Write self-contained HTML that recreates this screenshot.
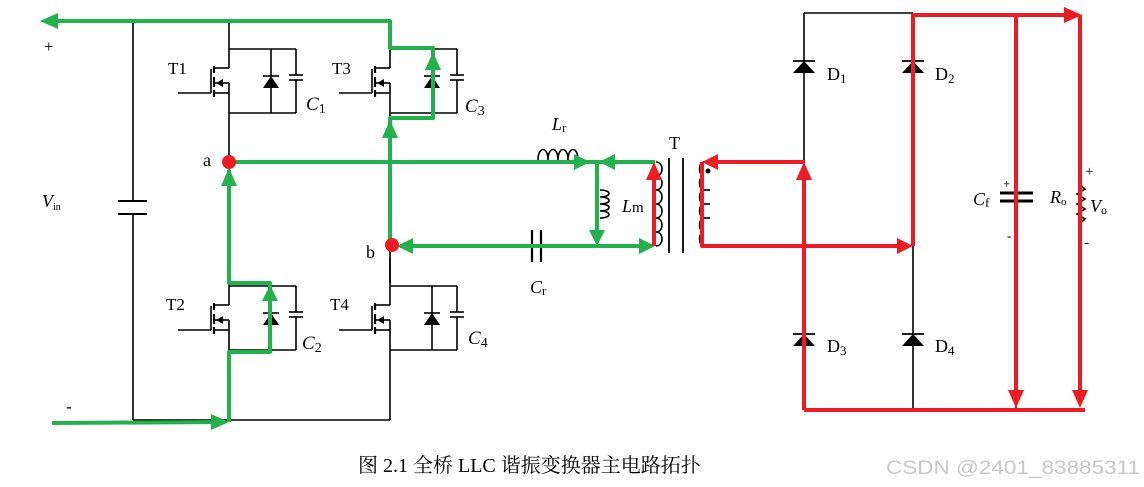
<!DOCTYPE html>
<html><head><meta charset="utf-8"><style>
html,body{margin:0;padding:0;background:#fff;}
svg{display:block;}
</style></head><body>
<svg width="1144" height="487" viewBox="0 0 1144 487" xmlns="http://www.w3.org/2000/svg">
<defs>
<g id="sw" stroke="#000" stroke-width="1.6" fill="none">
  <line x1="0" y1="-28" x2="0" y2="19"/>
  <line x1="0" y1="19" x2="-15" y2="19"/>
  <line x1="-15" y1="34" x2="0" y2="34"/>
  <line x1="-15" y1="44" x2="0" y2="44"/>
  <line x1="0" y1="34" x2="0" y2="64"/>
  <line x1="-15" y1="17" x2="-15" y2="24" stroke-width="2.2"/>
  <line x1="-15" y1="28" x2="-15" y2="38" stroke-width="2.2"/>
  <line x1="-15" y1="41" x2="-15" y2="48" stroke-width="2.2"/>
  <line x1="-18" y1="20" x2="-18" y2="44"/>
  <line x1="-51" y1="44" x2="-18" y2="44"/>
  <polygon points="-13,34 -6,30 -6,38" fill="#000" stroke="none"/>
  <line x1="0" y1="0" x2="67" y2="0"/>
  <line x1="67" y1="0" x2="67" y2="26"/>
  <line x1="60" y1="26" x2="74" y2="26"/>
  <line x1="60" y1="31" x2="74" y2="31"/>
  <line x1="67" y1="31" x2="67" y2="64"/>
  <line x1="0" y1="64" x2="67" y2="64"/>
  <line x1="42" y1="0" x2="42" y2="64"/>
  <polygon points="34,39 50,39 42,27" fill="#000" stroke="none"/>
  <line x1="34" y1="27" x2="50" y2="27"/>
</g>
<g id="dio"><polygon points="-11,6 11,6 0,-6" fill="#000"/><line x1="-11" y1="-6" x2="11" y2="-6" stroke="#000" stroke-width="1.8"/></g>
</defs>

<g stroke="#000" stroke-width="1.6" fill="none">
  <line x1="133" y1="21" x2="390" y2="21"/>
  <line x1="133" y1="21" x2="133" y2="201"/>
  <line x1="133" y1="214" x2="133" y2="420"/>
  <line x1="118" y1="201" x2="147" y2="201" stroke-width="2"/>
  <line x1="118" y1="214" x2="147" y2="214" stroke-width="2"/>
  <line x1="133" y1="420" x2="390" y2="420"/>
  <line x1="229" y1="113" x2="229" y2="283"/>
  <line x1="390" y1="113" x2="390" y2="283"/>
  <line x1="229" y1="350" x2="229" y2="420"/>
  <line x1="390" y1="350" x2="390" y2="420"/>
  <path d="M538,160 c0,-14 10,-14 10,0 c0,-14 10,-14 10,0 c0,-14 10,-14 10,0 c0,-14 10,-14 10,0"/>
  <path d="M600,190 c12,0 12,7 0,7 c12,0 12,7 0,7 c12,0 12,7 0,7 c12,0 12,7 0,7"/>
  <line x1="532" y1="230" x2="532" y2="262" stroke-width="2.2"/>
  <line x1="541" y1="230" x2="541" y2="262" stroke-width="2.2"/>
  <path d="M656,162 c8,0 8,14 0,14 c8,0 8,14 0,14 c8,0 8,14 0,14 c8,0 8,14 0,14 c8,0 8,14 0,14 c8,0 8,14 0,14"/>
  <line x1="669" y1="158" x2="669" y2="253" stroke-width="1.8"/>
  <line x1="683" y1="158" x2="683" y2="253" stroke-width="1.8"/>
  <path d="M704,162 c-6,0 -6,14 0,14 c-6,0 -6,14 0,14 c-6,0 -6,14 0,14 c-6,0 -6,14 0,14 c-6,0 -6,14 0,14 c-6,0 -6,14 0,14"/>
  <line x1="704" y1="190" x2="710" y2="190"/>
  <line x1="704" y1="204" x2="710" y2="204"/>
  <line x1="704" y1="218" x2="710" y2="218"/>
  <line x1="804" y1="13" x2="913" y2="13"/>
  <line x1="804" y1="13" x2="804" y2="410"/>
  <line x1="913" y1="13" x2="913" y2="410"/>
  <line x1="1016" y1="15" x2="1016" y2="410"/>
  <line x1="1000" y1="193" x2="1033" y2="193" stroke-width="3"/>
  <line x1="1000" y1="201" x2="1033" y2="201" stroke-width="3"/>
  <path d="M1080,185 l5,4 l-8,5 l8,5 l-8,5 l8,5 l-8,5 l8,5 l-5,4"/>
</g>
<circle cx="708" cy="171" r="2.5" fill="#000"/>
<use href="#sw" x="229" y="49"/>
<use href="#sw" x="390" y="49"/>
<use href="#sw" x="229" y="286"/>
<use href="#sw" x="390" y="286"/>
<use href="#dio" x="804" y="67"/>
<use href="#dio" x="913" y="67"/>
<use href="#dio" x="804" y="340"/>
<use href="#dio" x="913" y="340"/>

<g stroke="#22b14c" stroke-width="4" fill="none" stroke-linejoin="round">
  <polyline points="390,243 390,118 433,118 433,48 390,48 390,21 50,21"/>
  <polyline points="52,423 225,422"/>
  <polyline points="229,422 229,352 270,352 270,283 229,283 229,170"/>
  <line x1="233" y1="162" x2="655" y2="162"/>
  <line x1="597" y1="162" x2="597" y2="242"/>
  <line x1="400" y1="246" x2="652" y2="246"/>
</g>
<g fill="#22b14c">
  <polygon points="40,21 58,13 58,29"/>
  <polygon points="229,422 211,414 211,430"/>
  <polygon points="229,168 221,186 237,186"/>
  <polygon points="270,285 262,301 278,301"/>
  <polygon points="390,120 382,138 398,138"/>
  <polygon points="433,52 425,70 441,70"/>
  <polygon points="590,162 574,154 574,170"/>
  <polygon points="599,162 615,154 615,170"/>
  <polygon points="597,246 589,230 605,230"/>
  <polygon points="397,246 413,238 413,254"/>
  <polygon points="655,246 639,238 639,254"/>
</g>
<g stroke="#ed1c24" stroke-width="4" fill="none" stroke-linejoin="round">
  <line x1="654" y1="246" x2="654" y2="168"/>
  <polyline points="805,162 706,162"/>
  <polyline points="702,162 702,246 908,246"/>
  <polyline points="804,410 804,170"/>
  <polyline points="913,246 913,15 1075,15"/>
  <line x1="1080" y1="15" x2="1080" y2="402"/>
  <line x1="1016" y1="15" x2="1016" y2="402"/>
  <line x1="804" y1="410" x2="1085" y2="410"/>
</g>
<g fill="#ed1c24">
  <polygon points="654,162 646,180 662,180"/>
  <polygon points="702,162 718,154 718,170"/>
  <polygon points="804,162 796,180 812,180"/>
  <polygon points="913,246 897,238 897,254"/>
  <polygon points="1082,15 1064,7 1064,23"/>
  <polygon points="1080,408 1072,390 1088,390"/>
  <polygon points="1016,408 1008,390 1024,390"/>
</g>
<circle cx="229" cy="162" r="7" fill="#ed1c24"/>
<circle cx="392" cy="245" r="7" fill="#ed1c24"/>

<g font-family="Liberation Serif, serif" font-size="17" fill="#000">
  <text x="44" y="52">+</text>
  <text x="66" y="412">-</text>
  <text x="42" y="207" font-style="italic" font-size="18">V<tspan font-size="10" font-style="normal" dy="3">in</tspan></text>
  <text x="168" y="74">T1</text>
  <text x="332" y="74">T3</text>
  <text x="166" y="310">T2</text>
  <text x="330" y="310">T4</text>
  <text x="306" y="110" font-style="italic" font-size="19">C<tspan font-style="normal" font-size="14" dy="3">1</tspan></text>
  <text x="465" y="112" font-style="italic" font-size="19">C<tspan font-style="normal" font-size="14" dy="3">3</tspan></text>
  <text x="302" y="349" font-style="italic" font-size="19">C<tspan font-style="normal" font-size="14" dy="3">2</tspan></text>
  <text x="468" y="344" font-style="italic" font-size="19">C<tspan font-style="normal" font-size="14" dy="3">4</tspan></text>
  <text x="203" y="166" font-size="18">a</text>
  <text x="366" y="258" font-size="18">b</text>
  <text x="552" y="130" font-style="italic" font-size="18">L<tspan font-style="normal" font-size="13" dy="2">r</tspan></text>
  <text x="622" y="212" font-style="italic" font-size="18">L<tspan font-style="normal" font-size="15">m</tspan></text>
  <text x="530" y="293" font-style="italic" font-size="18">C<tspan font-style="normal" font-size="13" dy="2">r</tspan></text>
  <text x="669" y="149" font-size="18">T</text>
  <text x="827" y="80" font-size="18">D<tspan font-size="13" dy="3">1</tspan></text>
  <text x="935" y="80" font-size="18">D<tspan font-size="13" dy="3">2</tspan></text>
  <text x="827" y="352" font-size="18">D<tspan font-size="13" dy="3">3</tspan></text>
  <text x="935" y="352" font-size="18">D<tspan font-size="13" dy="3">4</tspan></text>
  <text x="973" y="205" font-style="italic" font-size="18">C<tspan font-style="normal" font-size="13" dy="2">f</tspan></text>
  <text x="1003" y="188" font-size="13">+</text>
  <text x="1007" y="240" font-size="13">-</text>
  <text x="1050" y="203" font-style="italic" font-size="18">R<tspan font-style="normal" font-size="11" dy="2">o</tspan></text>
  <text x="1090" y="212" font-style="italic" font-size="18">V<tspan font-style="normal" font-size="12" dy="2">o</tspan></text>
  <text x="1085" y="176" font-size="15">+</text>
  <text x="1084" y="247" font-size="15">-</text>
  <text x="358" y="472" font-size="20" font-family="Liberation Serif, 'Noto Serif CJK SC', serif">图 2.1 全桥 LLC 谐振变换器主电路拓扑</text>
</g>
<text x="886" y="474" font-family="Liberation Sans, sans-serif" font-size="19" fill="#c8c8c8" textLength="254" lengthAdjust="spacingAndGlyphs">CSDN @2401_83885311</text>
</svg>
</body></html>
